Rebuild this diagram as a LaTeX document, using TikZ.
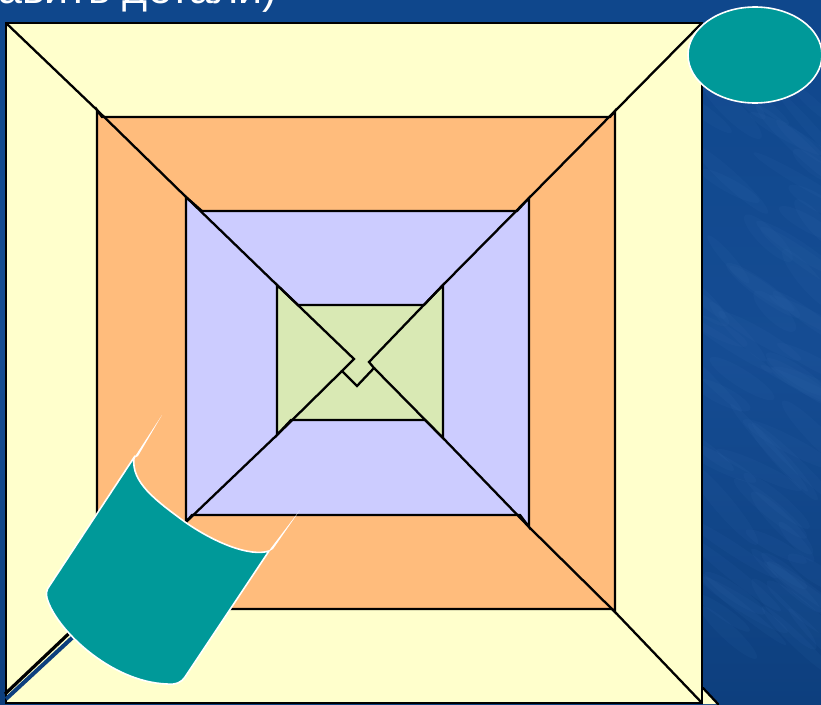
\documentclass[tikz,border=0pt]{standalone}
\usepackage{fontspec}
\setmainfont{Liberation Sans}
\definecolor{bgblue}{HTML}{0F478C}
\definecolor{bgmid}{HTML}{154C93}
\definecolor{bgdark}{HTML}{0D3F7E}
\definecolor{bglight}{HTML}{3A70B5}
\definecolor{paperyellow}{HTML}{FFFFCC}
\definecolor{paperorange}{HTML}{FFBC7C}
\definecolor{paperviolet}{HTML}{CCCCFF}
\definecolor{papergreen}{HTML}{D9E9B4}
\definecolor{tealfill}{HTML}{009999}
\tikzset{
  fold/.style={draw=black,line width=2.3pt,line join=miter},
  foldline/.style={draw=black,line width=2.3pt,line join=miter,line cap=round},
  tealshape/.style={fill=tealfill,draw=white,line width=1.6pt,line join=round},
  spike/.style={fill=white,draw=none},
}
\begin{document}
\begin{tikzpicture}[x=1pt,y=-1pt]
\useasboundingbox (0,0) rectangle (821,704);
\clip (0,0) rectangle (821,704);
% background
\shade[top color=bgblue,bottom color=bgdark,middle color=bgmid] (0,0) rectangle (821,704);
% mottled texture of the background
\pgfmathsetseed{4711}
\foreach \i in {1,...,70}{
  \pgfmathsetmacro{\mx}{702+rnd*119}
  \pgfmathsetmacro{\my}{90+rnd*560}
  \pgfmathsetmacro{\mr}{25+rnd*35}
  \pgfmathsetmacro{\ma}{-50+rnd*25}
  \fill[bglight,opacity=0.09,rotate around={\ma:(\mx,\my)}] (\mx,\my) ellipse [x radius=\mr,y radius=5+rnd*5];
}
% clipped title
\node[anchor=base west,inner sep=0pt,text=white,font=\fontsize{43pt}{43pt}\selectfont] (title) at (-2,4) {авить детали)};
% small flap at the lower right corner
\fill[paperyellow] (703,688) -- (718,704) -- (703,704) -- cycle;
\draw[foldline] (703,688) -- (718,704);
% outer square
\draw[fold,fill=paperyellow] (6,23) rectangle (702,703);
% blue gap on the lower left diagonal
\draw[bgdark,line width=4pt] (6,699) -- (73,637);
% orange
\path[fold,fill=paperorange] (97,110) -- (102,117) -- (610,117) -- (615,111) -- (615,612) -- (612,609) -- (97,609) -- cycle;
% violet
\path[fold,fill=paperviolet] (186,197) -- (202,211) -- (517,211) -- (529,198) -- (529,527) -- (520,515) -- (192,515) -- (186,522) -- cycle;
% green
\path[fold,fill=papergreen] (277,285) -- (298,305) -- (424,305) -- (443,285) -- (443,438) -- (425,420) -- (291,420) -- (277,435) -- cycle;
% diagonals
\draw[foldline] (6,23) -- (97,110) -- (186,197) -- (277,285) -- (354,359) -- (342,371) -- (357,386) -- (374,368) -- (369,362) -- (443,285) -- (529,198) -- (615,111) -- (702,23);
\draw[foldline] (374,368) -- (443,438) -- (529,527) -- (615,612) -- (702,703);
\draw[foldline] (342,371) -- (277,435) -- (186,522) -- (100,604);
\draw[draw=black,line width=3.2pt] (100,604) -- (5,694);
% scroll
\fill[spike] (134,458) -- (162,415) -- (138,456) -- cycle;
\fill[spike] (268,552) -- (300,510) -- (273,549) -- cycle;
\draw[tealshape] (135,456) -- (50,585)
  .. controls (46,590) and (46,594) .. (47,598)
  .. controls (55,628) and (110,682) .. (167,684)
  .. controls (176,685) and (182,682) .. (185,677)
  -- (269,551)
  .. controls (250,557) and (215,543) .. (185,522)
  .. controls (155,500) and (131,482) .. (134,458) -- cycle;
% ellipse
\draw[tealshape] (755,55) ellipse [x radius=67,y radius=48];
\end{tikzpicture}
\end{document}
